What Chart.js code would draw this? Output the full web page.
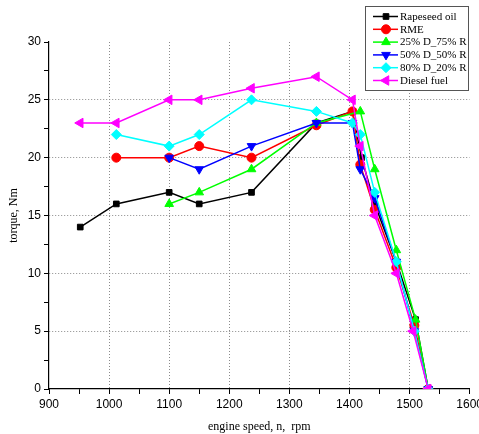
<!DOCTYPE html>
<html>
<head>
<meta charset="utf-8">
<script src="https://cdn.jsdelivr.net/npm/chart.js@4/dist/chart.umd.min.js"></script>
<style>
  html, body { margin: 0; padding: 0; background: #fff; overflow: hidden; }
  #wrap { position: relative; width: 486px; height: 434px; }
</style>
</head>
<body>
<div id="wrap"><canvas id="myChart"></canvas></div>
<script>
// engine speed (rpm) and torque (Nm) per fuel
var rapeseedX = [952, 1012, 1100, 1150, 1237, 1345, 1405, 1420, 1442, 1478, 1510, 1531];
var rapeseedY = [14, 16, 17, 16, 17, 23, 24, 20, 16, 11, 6, 0];

var rmeX = [1012, 1100, 1150, 1237, 1345, 1405, 1418, 1442, 1478, 1508, 1531];
var rmeY = [20, 20, 21, 20, 22.8, 24, 19.4, 15.5, 10.5, 5.5, 0];

var d25X = [1100, 1150, 1237, 1345, 1418, 1442, 1478, 1510, 1531];
var d25Y = [16, 17, 19, 23, 24, 19, 12, 6, 0];

var d50X = [1100, 1150, 1237, 1345, 1405, 1418, 1442, 1478, 1508, 1531];
var d50Y = [20, 19, 21, 23, 23, 19, 16.5, 11, 5, 0];

var d80X = [1012, 1100, 1150, 1237, 1345, 1405, 1418, 1442, 1478, 1508, 1531];
var d80Y = [22, 21, 22, 25, 24, 23, 22, 17, 11, 5, 0];

var dieselX = [952, 1012, 1100, 1150, 1237, 1345, 1405, 1418, 1442, 1478, 1506, 1531];
var dieselY = [23, 23, 25, 25, 26, 27, 25, 21, 15, 10, 5, 0];

var seriesNames = ["Rapeseed oil", "RME", "25% D_75% R", "50% D_50% R", "80% D_20% R", "Diesel fuel"];
var colors = ["#000000", "#ff0000", "#00ff00", "#0000ff", "#00ffff", "#ff00ff"];
var styles = ["rect", "circle", "triangle", "triangle", "rectRot", "triangle"];
var rotations = [0, 0, 0, 180, 0, 270];
var sizes = [4, 4.5, 5, 5, 5, 5.5];

function pts(xs, ys) {
  var out = [];
  for (var i = 0; i < xs.length; i++) out.push({ x: xs[i], y: ys[i] });
  return out;
}
var allData = [
  pts(rapeseedX, rapeseedY), pts(rmeX, rmeY), pts(d25X, d25Y),
  pts(d50X, d50Y), pts(d80X, d80Y), pts(dieselX, dieselY)
];

var datasets = [];
for (var i = 0; i < 6; i++) {
  datasets.push({
    label: seriesNames[i],
    data: allData[i],
    borderColor: colors[i],
    backgroundColor: colors[i],
    borderWidth: 1.5,
    pointStyle: styles[i],
    pointRotation: rotations[i],
    pointRadius: sizes[i],
    pointBorderWidth: 1,
    order: 5 - i
  });
}

var boxLegend = {
  id: "boxLegend",
  afterDraw: function (chart) {
    var c = chart.ctx;
    var x0 = 365, y0 = 6, w = 103, h = 84;
    c.save();
    c.fillStyle = "#fff";
    c.fillRect(x0, y0, w, h);
    c.strokeStyle = "#555";
    c.lineWidth = 1;
    c.strokeRect(x0 + 0.5, y0 + 0.5, w, h);
    c.font = "11px 'Liberation Serif', serif";
    c.textBaseline = "middle";
    chart.data.datasets.forEach(function (ds, i) {
      var y = y0 + 10.5 + i * 12.8;
      c.strokeStyle = ds.borderColor;
      c.lineWidth = 1.5;
      c.beginPath();
      c.moveTo(373, y);
      c.lineTo(398, y);
      c.stroke();
      c.fillStyle = ds.borderColor;
      c.lineWidth = 1;
      Chart.helpers.drawPoint(c, {
        pointStyle: ds.pointStyle, rotation: ds.pointRotation,
        radius: ds.pointRadius, borderWidth: 1
      }, 386, y);
      c.fillStyle = "#000";
      c.fillText(ds.label, 400, y + 0.5);
    });
    c.restore();
  }
};

function majorGrid(step, lo, hi) {
  return function (c) {
    var v = c.tick && c.tick.value;
    return (v % step === 0 && v > lo && v < hi) ? "#8a8a8a" : "rgba(0,0,0,0)";
  };
}

var ctx = document.getElementById("myChart").getContext("2d");
var myChart = new Chart(ctx, {
  type: "line",
  data: { datasets: datasets },
  options: {
    responsive: true,
    maintainAspectRatio: false,
    animation: false,
    layout: { padding: { top: 42, left: 0, right: 0, bottom: 0 } },
    plugins: { legend: { display: false }, tooltip: { enabled: false } },
    scales: {
      x: {
        type: "linear",
        min: 900,
        max: 1600,
        ticks: {
          stepSize: 50,
          color: "#000",
          font: { family: "'Liberation Sans', Arial", size: 12 },
          callback: function (v) { return v % 100 === 0 ? v : ""; },
          maxRotation: 0,
          autoSkip: false
        },
        grid: {
          color: majorGrid(100, 900, 1600),
          tickColor: "#000",
          tickLength: 5,
          lineWidth: 1
        },
        border: { color: "#000", width: 1.2, dash: [1, 2] },
        title: {
          display: true,
          text: "engine speed, n,  rpm",
          color: "#000",
          font: { family: "'Liberation Serif', serif", size: 12 },
          padding: { top: 11, bottom: 0 }
        },
        afterFit: function (s) { s.height = 45; }
      },
      y: {
        min: 0,
        max: 30,
        ticks: {
          stepSize: 2.5,
          color: "#000",
          font: { family: "'Liberation Sans', Arial", size: 12 },
          callback: function (v) { return v % 5 === 0 ? v : ""; },
          autoSkip: false
        },
        grid: {
          color: majorGrid(5, 0, 30),
          tickColor: "#000",
          tickLength: 5,
          lineWidth: 1
        },
        border: { color: "#000", width: 1.2, dash: [1, 2] },
        title: {
          display: true,
          text: "torque, Nm",
          color: "#000",
          font: { family: "'Liberation Serif', serif", size: 12 },
          padding: { top: 7, bottom: 2 }
        },
        afterFit: function (s) { s.width = 49; }
      }
    }
  },
  plugins: [boxLegend]
});
</script>
</body>
</html>
